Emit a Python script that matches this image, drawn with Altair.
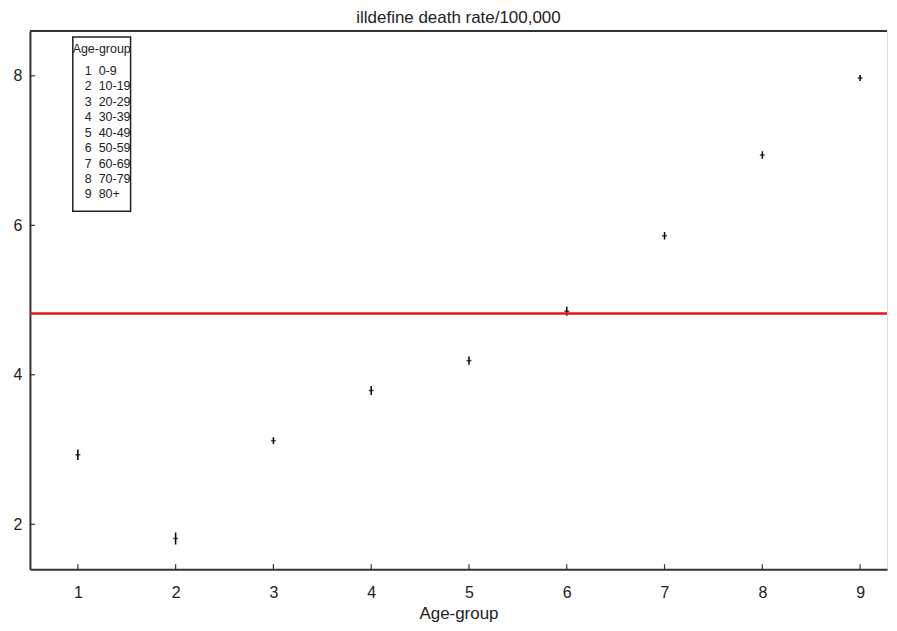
import altair as alt
import pandas as pd

# ---- data ----
groups = [1, 2, 3, 4, 5, 6, 7, 8, 9]
rates = [2.93, 1.81, 3.12, 3.79, 4.19, 4.85, 5.86, 6.94, 7.97]
half_ci = [0.07, 0.08, 0.045, 0.06, 0.055, 0.06, 0.05, 0.05, 0.04]
overall_rate = 4.82
age_labels = ["0-9", "10-19", "20-29", "30-39", "40-49", "50-59", "60-69", "70-79", "80+"]
y_ticks = [2, 4, 6, 8]

W, H = 860, 540
FONT = "Liberation Sans"

df = pd.DataFrame({
    "group": groups,
    "rate": rates,
    "lo": [r - h for r, h in zip(rates, half_ci)],
    "hi": [r + h for r, h in zip(rates, half_ci)],
})

xscale = alt.Scale(domain=[0.51, 9.275], nice=False, zero=False)
yscale = alt.Scale(domain=[1.4, 8.6], nice=False, zero=False)

x_axis = alt.Axis(values=groups, format="d", title="Age-group", grid=False, ticks=False,
                  labelPadding=15, labelFontSize=16, titleFontSize=17,
                  titleFontWeight="normal", titlePadding=6, domainColor="#333",
                  domainWidth=2, labelColor="#222", titleColor="#222",
                  labelFont=FONT, titleFont=FONT)
y_axis = alt.Axis(values=y_ticks, format="d", title=None, grid=False, ticks=False,
                  labelPadding=8, labelFontSize=16, domainColor="#333",
                  domainWidth=2, labelColor="#222", labelFont=FONT)

base = alt.Chart(df)

ci = base.mark_rule(color="black", strokeWidth=1.5).encode(
    x=alt.X("group:Q", scale=xscale, axis=x_axis),
    y=alt.Y("lo:Q", scale=yscale, axis=y_axis),
    y2="hi:Q",
)
center = base.mark_tick(color="black", orient="horizontal", size=5, thickness=1.5).encode(
    x=alt.X("group:Q", scale=xscale),
    y=alt.Y("rate:Q", scale=yscale),
)

red = alt.Chart(pd.DataFrame({"v": [overall_rate]})).mark_rule(
    color="#e8141c", strokeWidth=2.5).encode(
    y=alt.Y("v:Q", scale=yscale), x=alt.value(0), x2=alt.value(W))

# top frame line
top = alt.Chart(pd.DataFrame({"v": [0]})).mark_rule(color="#333", strokeWidth=2).encode(
    x=alt.value(0), x2=alt.value(W), y=alt.value(0))

# inward ticks
ytick = alt.Chart(pd.DataFrame({"t": y_ticks})).mark_rule(color="#333", strokeWidth=1.2).encode(
    y=alt.Y("t:Q", scale=yscale), x=alt.value(0), x2=alt.value(5))
xtick = alt.Chart(pd.DataFrame({"t": groups})).mark_rule(color="#333", strokeWidth=1.2).encode(
    x=alt.X("t:Q", scale=xscale), y=alt.value(H), y2=alt.value(H - 5))

# legend box
box = alt.Chart(pd.DataFrame({"v": [0]})).mark_rect(
    fill="white", stroke="#222", strokeWidth=1.5).encode(
    x=alt.value(43), x2=alt.value(101), y=alt.value(6), y2=alt.value(181))

leg_title = alt.Chart(pd.DataFrame({"t": ["Age-group"]})).mark_text(
    font=FONT, fontSize=12.5, color="#222", align="center", baseline="middle").encode(
    text="t:N", x=alt.value(72), y=alt.value(18))

leg_df = pd.DataFrame({"n": [str(g) for g in groups], "lab": age_labels, "i": list(range(9))})
leg_num = alt.Chart(leg_df).transform_calculate(py="40 + datum.i * 15.5").mark_text(
    font=FONT, fontSize=12.5, color="#222", align="right", baseline="middle").encode(
    text="n:N", x=alt.value(62), y=alt.Y("py:Q", scale=None))
leg_lab = alt.Chart(leg_df).transform_calculate(py="40 + datum.i * 15.5").mark_text(
    font=FONT, fontSize=12.5, color="#222", align="left", baseline="middle").encode(
    text="lab:N", x=alt.value(69), y=alt.Y("py:Q", scale=None))

chart = alt.layer(ci, center, red, top, ytick, xtick, box, leg_title, leg_num, leg_lab).properties(
    width=W, height=H,
    padding={"left": 5, "top": 0, "right": 0, "bottom": 5},
    title=alt.TitleParams("illdefine death rate/100,000", fontSize=17, font=FONT,
                          fontWeight="normal", color="#222", offset=3),
).configure_view(stroke=None).configure(background="white")

chart.save("out.html", embed_options={"renderer": "svg", "actions": False})
